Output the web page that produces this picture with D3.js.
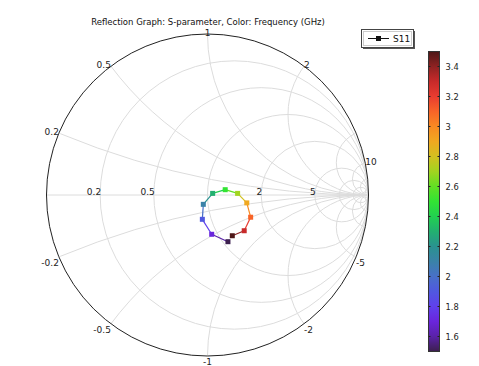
<!DOCTYPE html>
<html>
<head>
<meta charset="utf-8">
<script src="https://cdn.jsdelivr.net/npm/d3@7"></script>
<style>
  body { margin: 0; background: #fff; }
  svg { font-family: "DejaVu Sans", sans-serif; }
</style>
</head>
<body>
<script>
// data
var freqs = [1.5, 1.7, 1.9, 2.1, 2.3, 2.5, 2.7, 2.9, 3.1, 3.3, 3.5];
var gammaRe = [0.127, 0.026, -0.032, -0.026, 0.032, 0.110, 0.187, 0.244, 0.268, 0.228, 0.154];
var gammaIm = [-0.290, -0.244, -0.151, -0.058, 0.010, 0.033, 0.010, -0.049, -0.138, -0.222, -0.253];

var resistances = [0.2, 0.5, 1, 2, 5, 10, 20, 50];
var reactances = [0.2, 0.5, 1, 2, 5, 10, 20, 50, -0.2, -0.5, -1, -2, -5, -10, -20, -50];
var rLabels = [0.2, 0.5, 2, 5];
var xLabels = [0.2, 0.5, 1, 2, 10, -0.2, -0.5, -1, -2, -5];
var cbTicks = [1.6, 1.8, 2, 2.2, 2.4, 2.6, 2.8, 3, 3.2, 3.4];

var colorStops = [1.5, 1.6, 1.7, 1.8, 1.9, 2.0, 2.1, 2.2, 2.3, 2.4, 2.5, 2.6, 2.7, 2.8, 2.9, 3.0, 3.1, 3.2, 3.3, 3.4, 3.5];
var colorVals = ['#3c1f4e', '#5a22a8', '#6a25dc', '#6040ec', '#5058e0', '#4870c8', '#3a82a8', '#2a9290', '#22b070', '#22d050', '#32e434', '#62e024', '#a2d420', '#d2c020', '#f0a820', '#f88a22', '#f86428', '#e83c30', '#c82a2a', '#8e2222', '#4e1818'];

var width = 479, height = 366;
var cx = 207.5, cy = 195, R = 161;

var svg = d3.select('body').append('svg').attr('width', width).attr('height', height);

var x = d3.scaleLinear().domain([-1, 1]).range([cx - R, cx + R]);
var y = d3.scaleLinear().domain([-1, 1]).range([cy + R, cy - R]);
var color = d3.scaleLinear().domain(colorStops).range(colorVals).clamp(true);

svg.append('defs').append('clipPath').attr('id', 'unit')
  .append('circle').attr('cx', x(0)).attr('cy', y(0)).attr('r', x(1) - x(0));

var grid = svg.append('g').attr('clip-path', 'url(#unit)')
  .attr('fill', 'none').attr('stroke', '#dcdcdc').attr('stroke-width', 1);

// constant resistance circles
grid.selectAll('circle.r')
  .data(resistances)
  .enter()
  .append('circle')
  .attr('class', 'r')
  .attr('cx', function(r) { return x(r / (1 + r)); })
  .attr('cy', y(0))
  .attr('r', function(r) { return x(1 / (1 + r)) - x(0); });

// constant reactance arcs
grid.selectAll('circle.x')
  .data(reactances)
  .enter()
  .append('circle')
  .attr('class', 'x')
  .attr('cx', x(1))
  .attr('cy', function(v) { return y(1 / v); })
  .attr('r', function(v) { return x(1 / Math.abs(v)) - x(0); });

grid.append('line')
  .attr('x1', x(-1)).attr('x2', x(1)).attr('y1', y(0)).attr('y2', y(0));

svg.append('circle')
  .attr('cx', x(0)).attr('cy', y(0)).attr('r', x(1) - x(0))
  .attr('fill', 'none').attr('stroke', '#222').attr('stroke-width', 1);

// labels
svg.selectAll('text.rl')
  .data(rLabels)
  .enter()
  .append('text')
  .attr('class', 'rl')
  .attr('x', function(r) { return x((r - 1) / (r + 1)) + 1; })
  .attr('y', y(0))
  .attr('text-anchor', 'end')
  .attr('font-size', 9)
  .attr('fill', '#222')
  .text(function(r) { return r; });

svg.selectAll('text.xl')
  .data(xLabels)
  .enter()
  .append('text')
  .attr('class', 'xl')
  .attr('x', function(v) {
    var a = Math.PI - 2 * Math.atan(Math.abs(v));
    return x(Math.cos(a));
  })
  .attr('y', function(v) {
    var a = Math.PI - 2 * Math.atan(Math.abs(v));
    return v > 0 ? y(Math.sin(a)) + 2 : y(-Math.sin(a)) + 9;
  })
  .attr('text-anchor', function(v) {
    if (Math.abs(v) === 1) return 'middle';
    return Math.abs(v) < 1 ? 'end' : 'start';
  })
  .attr('font-size', 9)
  .attr('fill', '#222')
  .text(function(v) { return v; });

// S11 trace
var pts = freqs.map(function(f, i) { return { f: f, re: gammaRe[i], im: gammaIm[i] }; });

svg.selectAll('line.seg')
  .data(pts.slice(1))
  .enter()
  .append('line')
  .attr('class', 'seg')
  .attr('x1', function(d, i) { return x(pts[i].re); })
  .attr('y1', function(d, i) { return y(pts[i].im); })
  .attr('x2', function(d) { return x(d.re); })
  .attr('y2', function(d) { return y(d.im); })
  .attr('stroke', function(d, i) { return color((d.f + pts[i].f) / 2); })
  .attr('stroke-width', 1.2);

svg.selectAll('rect.pt')
  .data(pts)
  .enter()
  .append('rect')
  .attr('class', 'pt')
  .attr('x', function(d) { return x(d.re) - 2.5; })
  .attr('y', function(d) { return y(d.im) - 2.5; })
  .attr('width', 5)
  .attr('height', 5)
  .attr('fill', function(d) { return color(d.f); });

// title
svg.append('text')
  .attr('x', 208).attr('y', 25)
  .attr('text-anchor', 'middle')
  .attr('font-size', 8.5)
  .attr('fill', '#111')
  .text('Reflection Graph: S-parameter, Color: Frequency (GHz)');

// legend
var lg = svg.append('g');
lg.append('rect').attr('x', 363).attr('y', 31).attr('width', 52).attr('height', 18).attr('fill', '#555');
lg.append('rect').attr('x', 361.5).attr('y', 29.5).attr('width', 52).attr('height', 18)
  .attr('fill', '#fff').attr('stroke', '#444');
lg.append('rect').attr('x', 363.5).attr('y', 31.5).attr('width', 48).attr('height', 14)
  .attr('fill', 'none').attr('stroke', '#ccc');
lg.append('line').attr('x1', 368).attr('x2', 389).attr('y1', 38.5).attr('y2', 38.5).attr('stroke', '#111');
lg.append('rect').attr('x', 376).attr('y', 36).attr('width', 5).attr('height', 5).attr('fill', '#111');
lg.append('text').attr('x', 393).attr('y', 42).attr('font-size', 9).attr('fill', '#111').text('S11');

// colorbar
var cb = d3.scaleLinear().domain([1.5, 3.5]).range([351.5, 51.5]);
var grad = svg.select('defs').append('linearGradient').attr('id', 'cbar')
  .attr('x1', 0).attr('x2', 0).attr('y1', 1).attr('y2', 0);
grad.selectAll('stop')
  .data(colorStops)
  .enter()
  .append('stop')
  .attr('offset', function(d) { return (d - 1.5) / 2; })
  .attr('stop-color', function(d) { return color(d); });

svg.append('rect')
  .attr('x', 428.5).attr('y', cb(3.5)).attr('width', 11).attr('height', cb(1.5) - cb(3.5))
  .attr('fill', 'url(#cbar)').attr('stroke', '#333').attr('stroke-width', 1);

var cbAxis = svg.append('g');
cbAxis.selectAll('line.tl')
  .data(cbTicks)
  .enter()
  .append('line')
  .attr('x1', 428.5).attr('x2', 430.5)
  .attr('y1', function(d) { return cb(d); }).attr('y2', function(d) { return cb(d); })
  .attr('stroke', '#222');
cbAxis.selectAll('line.tr')
  .data(cbTicks)
  .enter()
  .append('line')
  .attr('x1', 437.5).attr('x2', 439.5)
  .attr('y1', function(d) { return cb(d); }).attr('y2', function(d) { return cb(d); })
  .attr('stroke', '#222');
cbAxis.selectAll('text')
  .data(cbTicks)
  .enter()
  .append('text')
  .attr('x', 445.5)
  .attr('y', function(d) { return cb(d) + 3.2; })
  .attr('font-size', 8.3)
  .attr('fill', '#222')
  .text(function(d) { return d; });
</script>
</body>
</html>
